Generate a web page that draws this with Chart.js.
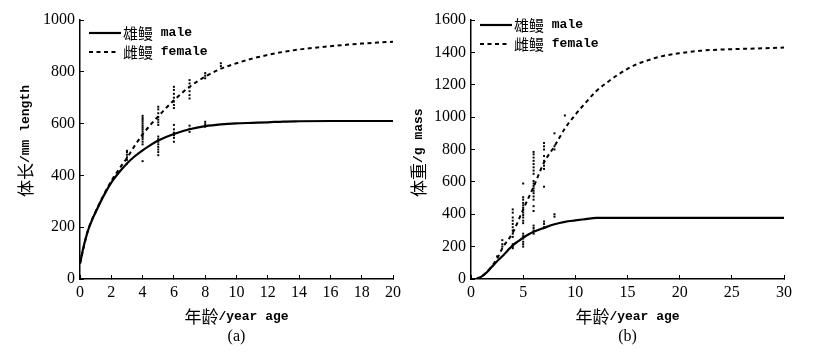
<!DOCTYPE html>
<html>
<head>
<meta charset="utf-8">
<script src="https://cdn.jsdelivr.net/npm/chart.js@4.4.1/dist/chart.umd.min.js"></script>
<style>
  html, body { margin: 0; padding: 0; background: #fff; }
  .wrap { position: relative; width: 818px; height: 353px; }
  canvas { position: absolute; top: 0; }
  #chartA { left: 0; }
  #chartB { left: 409px; }
</style>
</head>
<body>
<div class="wrap">
  <canvas id="chartA" width="409" height="353"></canvas>
  <canvas id="chartB" width="409" height="353"></canvas>
</div>
<script>
/* ---------- (a) length ---------- */
const maleAgeA = [0, 0.25, 0.5, 0.75, 1, 1.5, 2, 2.5, 3, 3.5, 4, 4.5, 5, 6, 7, 8, 9, 10, 11, 12, 13, 14, 16, 18, 20];
const maleLenA = [60, 130, 185, 225, 258, 320, 372, 412, 446, 474, 497, 517, 535, 560, 578, 590, 597, 601, 603, 605, 608, 609, 610, 610, 610];

const femaleAgeA = [0, 0.5, 1, 1.5, 2, 2.5, 3, 3.5, 4, 4.5, 5, 5.5, 6, 7, 8, 9, 10, 11, 12, 13, 14, 15, 16, 17, 18, 19, 20];
const femaleLenA = [60, 186, 260, 323, 378, 425, 467, 515, 558, 595, 628, 660, 690, 742, 781, 812, 833, 851, 865, 877, 886, 893, 899, 904, 909, 913, 916];

const obsAgeA = [
  3, 3, 3, 3, 3, 3,
  4, 4, 4, 4, 4, 4, 4, 4, 4, 4, 4, 4, 4, 4, 4, 4,
  5, 5, 5, 5, 5, 5, 5, 5, 5, 5, 5, 5, 5, 5, 5,
  6, 6, 6, 6, 6, 6, 6, 6, 6, 6, 6, 6, 6,
  7, 7, 7, 7, 7, 7, 7, 7, 7,
  8, 8, 8, 8, 8, 8,
  9, 9
];
const obsLenA = [
  445, 460, 470, 480, 490, 495,
  455, 520, 530, 540, 548, 555, 562, 570, 578, 585, 592, 600, 608, 615, 622, 630,
  595, 605, 615, 625, 640, 655, 665, 478, 490, 500, 510, 520, 530, 540, 550,
  660, 672, 685, 700, 715, 730, 742, 530, 545, 555, 565, 578, 595,
  697, 710, 725, 740, 755, 768, 568, 580, 592,
  775, 785, 795, 588, 598, 607,
  822, 833
];

/* ---------- (b) mass ---------- */
const maleAgeB = [0.5, 1, 1.5, 2, 2.5, 3, 3.5, 4, 4.5, 5, 5.5, 6, 7, 8, 9, 10, 11, 12, 15, 20, 25, 30];
const maleMassB = [0, 15, 40, 75, 110, 140, 175, 208, 232, 255, 275, 292, 316, 338, 353, 362, 370, 378, 378, 378, 378, 378];

const femaleAgeB = [0.5, 1, 1.5, 2, 2.5, 3, 4, 5, 6, 7, 8, 9, 10, 11, 12, 13, 14, 15, 16, 17, 18, 20, 22, 25, 28, 30];
const femaleMassB = [0, 15, 42, 80, 125, 190, 285, 430, 570, 720, 820, 930, 1015, 1090, 1160, 1212, 1258, 1298, 1330, 1352, 1372, 1395, 1410, 1420, 1425, 1430];

const obsAgeB = [
  2.5, 3, 3, 3,
  4, 4, 4, 4, 4, 4, 4, 4, 4, 4, 4, 4,
  5, 5, 5, 5, 5, 5, 5, 5, 5, 5, 5, 5, 5, 5, 5, 5, 5, 5,
  6, 6, 6, 6, 6, 6, 6, 6, 6, 6, 6, 6, 6, 6, 6, 6, 6, 6, 6, 6, 6, 6,
  7, 7, 7, 7, 7, 7, 7, 7, 7, 7, 7,
  8, 8, 8, 8, 8,
  9
];
const obsMassB = [
  140, 200, 215, 240,
  190, 200, 215, 260, 280, 300, 320, 340, 360, 380, 410, 430,
  200, 215, 230, 250, 265, 280, 345, 360, 380, 395, 410, 425, 440, 455, 470, 490, 505, 590,
  280, 300, 315, 330, 420, 450, 490, 510, 530, 545, 560, 575, 590, 605, 650, 670, 690, 710, 730, 750, 770, 785,
  320, 340, 355, 570, 680, 700, 730, 760, 800, 820, 840,
  385, 400, 800, 820, 900,
  1010
];

const xTitle = "年龄/year age";
const maleLabel = "雄鳗 male";
const femaleLabel = "雌鳗 female";
const female_dash = [4, 3.5];

/* ---------- helpers ---------- */
const CJK_FONT = '"Noto Sans CJK SC"';
const MONO_FONT = '"Liberation Mono"';

function toPoints(xs, ys) {
  return xs.map((x, i) => ({ x: x, y: ys[i] }));
}

function splitRuns(text) {
  const out = [];
  for (const ch of text) {
    const cjk = /[\u3400-\u9fff]/.test(ch);
    const last = out[out.length - 1];
    if (last && last.cjk === cjk) last.s += ch;
    else out.push({ s: ch, cjk: cjk });
  }
  return out;
}

// draw text where chinese and latin parts use different fonts
function drawMixed(ctx, text, x, y, align, cjkSize, latinSize) {
  const runs = splitRuns(text);
  let total = 0;
  runs.forEach((r) => {
    ctx.font = r.cjk ? `${cjkSize}px ${CJK_FONT}` : `bold ${latinSize}px ${MONO_FONT}`;
    r.w = ctx.measureText(r.s).width;
    total += r.w;
  });
  let cx = align === "center" ? x - total / 2 : x;
  ctx.textAlign = "left";
  ctx.textBaseline = "middle";
  runs.forEach((r) => {
    ctx.font = r.cjk ? `${cjkSize}px ${CJK_FONT}` : `bold ${latinSize}px ${MONO_FONT}`;
    ctx.fillText(r.s, cx, y);
    cx += r.w;
  });
}

const captionPlugin = {
  id: "captions",
  afterDraw(chart, args, opts) {
    const ctx = chart.ctx;
    const area = chart.chartArea;
    const mid = (area.left + area.right) / 2;
    ctx.save();
    ctx.fillStyle = "#000";

    // x title + panel tag
    drawMixed(ctx, opts.xTitle, mid, 317, "center", 17, 13);
    ctx.font = '16px "Liberation Serif"';
    ctx.textAlign = "center";
    ctx.textBaseline = "middle";
    ctx.fillText(opts.tag, mid, 337);

    // y title, rotated, starts at the bottom
    ctx.save();
    ctx.translate(opts.yTitleX, 197);
    ctx.rotate(-Math.PI / 2);
    drawMixed(ctx, opts.yTitle, 0, 0, "left", 17, 13);
    ctx.restore();

    // legend
    const lx = area.left + 9;
    const rows = [
      { y: opts.legendY, text: maleLabel, dash: [], len: 32 },
      { y: opts.legendY + 19, text: femaleLabel, dash: female_dash, len: 27 }
    ];
    rows.forEach((r) => {
      ctx.beginPath();
      ctx.setLineDash(r.dash);
      ctx.lineWidth = 2.2;
      ctx.strokeStyle = "#000";
      ctx.moveTo(lx, r.y);
      ctx.lineTo(lx + r.len, r.y);
      ctx.stroke();
      ctx.setLineDash([]);
      drawMixed(ctx, r.text, lx + 34, r.y, "left", 15, 13);
    });
    ctx.restore();
  }
};

function makeChart(id, cfg) {
  const tickFont = { family: '"Liberation Serif"', size: 16 };
  return new Chart(document.getElementById(id), {
    type: "scatter",
    data: {
      datasets: [
        {
          label: "male",
          data: toPoints(cfg.maleX, cfg.maleY),
          showLine: true,
          borderColor: "#000",
          borderWidth: 2.2,
          pointRadius: 0,
          cubicInterpolationMode: "monotone"
        },
        {
          label: "female",
          data: toPoints(cfg.femaleX, cfg.femaleY),
          showLine: true,
          borderColor: "#000",
          borderWidth: 2,
          borderDash: female_dash,
          pointRadius: 0,
          cubicInterpolationMode: "monotone"
        },
        {
          label: "obs",
          data: toPoints(cfg.obsX, cfg.obsY),
          pointStyle: "rect",
          pointRadius: 1.4,
          backgroundColor: "#000",
          borderWidth: 0
        }
      ]
    },
    options: {
      responsive: false,
      animation: false,
      layout: { padding: { top: 20, right: cfg.padRight, left: 0, bottom: 0 } },
      plugins: {
        legend: { display: false },
        tooltip: { enabled: false },
        captions: cfg.captions
      },
      scales: {
        x: {
          type: "linear",
          min: 0,
          max: cfg.xMax,
          ticks: { stepSize: cfg.xStep, color: "#000", font: tickFont, padding: 8, maxRotation: 0, callback: (v) => String(v) },
          grid: { drawOnChartArea: false, tickLength: -4, color: "#000", lineWidth: 1 },
          border: { color: "#000", width: 1.5 },
          afterFit: (s) => { s.height = 74; }
        },
        y: {
          min: 0,
          max: cfg.yMax,
          ticks: { stepSize: 200, color: "#000", font: tickFont, padding: 9, callback: (v) => String(v) },
          grid: { drawOnChartArea: false, tickLength: -4, color: "#000", lineWidth: 1 },
          border: { color: "#000", width: 1.5 },
          afterFit: (s) => { s.width = cfg.yWidth; }
        }
      }
    },
    plugins: [captionPlugin]
  });
}

makeChart("chartA", {
  maleX: maleAgeA, maleY: maleLenA,
  femaleX: femaleAgeA, femaleY: femaleLenA,
  obsX: obsAgeA, obsY: obsLenA,
  xMax: 20, xStep: 2, yMax: 1000,
  yWidth: 80, padRight: 15,
  captions: { xTitle: xTitle, tag: "(a)", yTitle: "体长/mm length", yTitleX: 26, legendY: 33 }
});

makeChart("chartB", {
  maleX: maleAgeB, maleY: maleMassB,
  femaleX: femaleAgeB, femaleY: femaleMassB,
  obsX: obsAgeB, obsY: obsMassB,
  xMax: 30, xStep: 5, yMax: 1600,
  yWidth: 62, padRight: 34,
  captions: { xTitle: xTitle, tag: "(b)", yTitle: "体重/g mass", yTitleX: 10, legendY: 25 }
});
</script>
</body>
</html>
